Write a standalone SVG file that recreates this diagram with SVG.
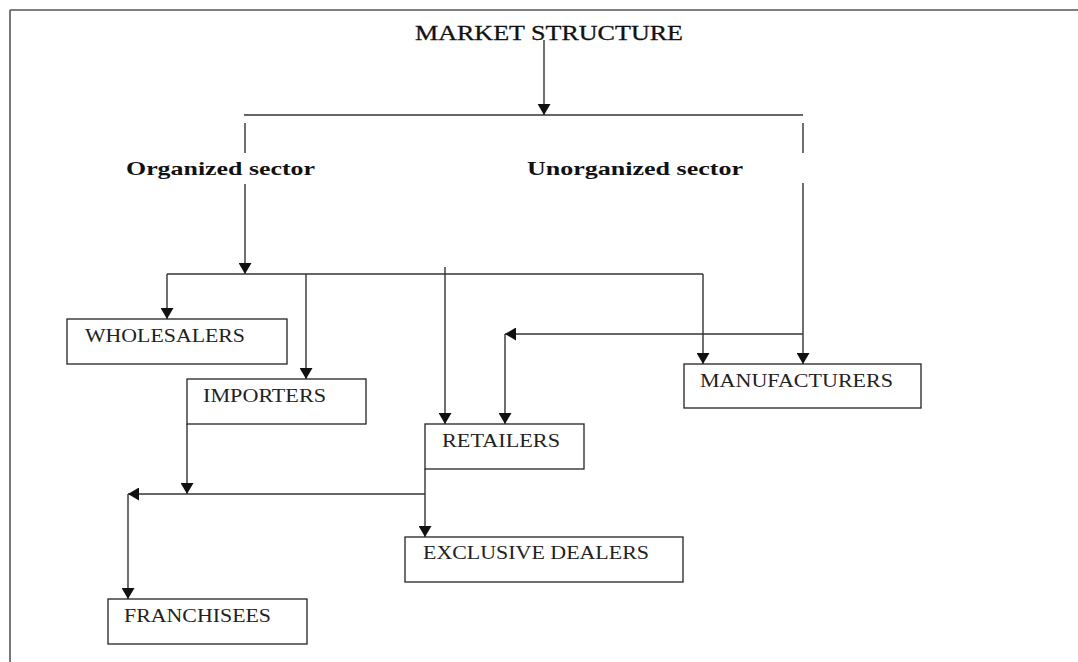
<svg xmlns="http://www.w3.org/2000/svg" width="1078" height="662" viewBox="0 0 1078 662">
<style>
.bg{fill:#fff}
.frame{stroke:#555;stroke-width:1.6;fill:none}
.box{fill:#fff;stroke:#222;stroke-width:1.3}
.ln{stroke:#333;stroke-width:1.4;fill:none}
.arr{stroke:#333;stroke-width:1.4;fill:none;marker-end:url(#ah)}
.t{font-family:"Liberation Serif","Times New Roman",serif;font-size:19px;fill:#222}
.h{font-family:"Liberation Serif","Times New Roman",serif;font-size:21px;fill:#111;stroke:#111;stroke-width:0.3}
.b{font-family:"Liberation Serif","Times New Roman",serif;font-size:19px;font-weight:bold;fill:#111}
</style>
<defs>
<marker id="ah" markerWidth="11" markerHeight="13" refX="11" refY="6.5" orient="auto" markerUnits="userSpaceOnUse" viewBox="0 0 11 13">
<path d="M0,0 L11,6.5 L0,13 Z" fill="#111"/>
</marker>
</defs>
<rect class="bg" x="0" y="0" width="1078" height="662"/>
<g id="frame">
<line class="frame" x1="10" y1="10" x2="1078" y2="10"/>
<line class="frame" x1="10" y1="10" x2="10" y2="662"/>
</g>
<g id="connectors">
<line class="arr" x1="544" y1="40" x2="544" y2="115"/>
<line class="ln" x1="244" y1="115" x2="803" y2="115"/>
<line class="ln" x1="245" y1="123" x2="245" y2="153"/>
<line class="ln" x1="803" y1="123" x2="803" y2="153"/>
<line class="arr" x1="245" y1="184" x2="245" y2="274"/>
<line class="ln" x1="167" y1="274" x2="703" y2="274"/>
<line class="arr" x1="167" y1="274" x2="167" y2="319"/>
<line class="arr" x1="306" y1="274" x2="306" y2="379"/>
<line class="arr" x1="445" y1="267" x2="445" y2="424"/>
<line class="arr" x1="703" y1="274" x2="703" y2="364"/>
<line class="arr" x1="803" y1="183" x2="803" y2="364"/>
<line class="arr" x1="803" y1="334" x2="505" y2="334"/>
<line class="arr" x1="505" y1="334" x2="505" y2="424"/>
<line class="arr" x1="187" y1="424" x2="187" y2="494"/>
<line class="ln" x1="425" y1="469" x2="425" y2="494"/>
<line class="arr" x1="425" y1="494" x2="128" y2="494"/>
<line class="arr" x1="128" y1="494" x2="128" y2="599"/>
<line class="arr" x1="425" y1="494" x2="425" y2="537"/>
</g>
<g id="market-structure">
<text class="h" x="415" y="40" textLength="268" lengthAdjust="spacingAndGlyphs">MARKET STRUCTURE</text>
</g>
<g id="organized-sector">
<text class="b" x="126" y="175" textLength="189" lengthAdjust="spacingAndGlyphs">Organized sector</text>
</g>
<g id="unorganized-sector">
<text class="b" x="527" y="175" textLength="216" lengthAdjust="spacingAndGlyphs">Unorganized sector</text>
</g>
<g id="wholesalers">
<rect class="box" x="67" y="319" width="220" height="45"/>
<text class="t" x="85" y="342" textLength="160" lengthAdjust="spacingAndGlyphs">WHOLESALERS</text>
</g>
<g id="importers">
<rect class="box" x="187" y="379" width="179" height="45"/>
<text class="t" x="203" y="402" textLength="123" lengthAdjust="spacingAndGlyphs">IMPORTERS</text>
</g>
<g id="manufacturers">
<rect class="box" x="684" y="364" width="237" height="44"/>
<text class="t" x="700" y="387" textLength="193" lengthAdjust="spacingAndGlyphs">MANUFACTURERS</text>
</g>
<g id="retailers">
<rect class="box" x="425" y="424" width="159" height="45"/>
<text class="t" x="442" y="447" textLength="118" lengthAdjust="spacingAndGlyphs">RETAILERS</text>
</g>
<g id="exclusive-dealers">
<rect class="box" x="405" y="537" width="278" height="45"/>
<text class="t" x="423" y="559" textLength="226" lengthAdjust="spacingAndGlyphs">EXCLUSIVE DEALERS</text>
</g>
<g id="franchisees">
<rect class="box" x="108" y="599" width="199" height="45"/>
<text class="t" x="124" y="622" textLength="147" lengthAdjust="spacingAndGlyphs">FRANCHISEES</text>
</g>
</svg>
